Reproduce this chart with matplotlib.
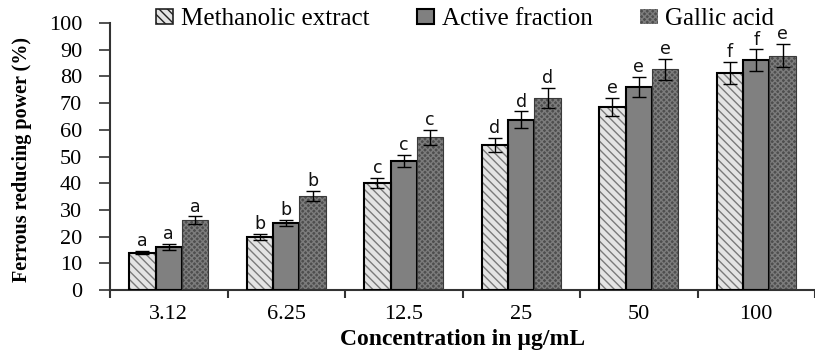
import matplotlib
matplotlib.use('Agg')
import matplotlib.pyplot as plt
import numpy as np
from matplotlib.patches import Patch

categories = ['3.12', '6.25', '12.5', '25', '50', '100']
series_names = ['Methanolic extract', 'Active fraction', 'Gallic acid']
methanolic = [14.0, 19.8, 40.0, 54.3, 68.4, 81.2]
methanolic_err = [0.5, 1.1, 1.9, 2.6, 3.4, 4.2]
active = [16.0, 25.0, 48.3, 63.7, 76.1, 86.0]
active_err = [1.2, 1.2, 2.3, 3.2, 3.7, 4.1]
gallic = [26.2, 35.3, 57.2, 72.0, 82.6, 87.8]
gallic_err = [1.4, 1.9, 2.8, 3.7, 4.0, 4.4]
letters_methanolic = ['a', 'b', 'c', 'd', 'e', 'f']
letters_active = ['a', 'b', 'c', 'd', 'e', 'f']
letters_gallic = ['a', 'b', 'c', 'd', 'e', 'e']

values = [methanolic, active, gallic]
errors = [methanolic_err, active_err, gallic_err]
letters = [letters_methanolic, letters_active, letters_gallic]

styles = [
    dict(face='#e4e4e4', hatch='\\\\\\\\', hcol='#7a7a7a', outline=True),
    dict(face='#808080', hatch=None, hcol='#808080', outline=True),
    dict(face='#4e4e4e', hatch='xxxxxx', hcol='#7c7c7c', outline=False),
]

SERIF = 'Liberation Serif'

fig = plt.figure(figsize=(8.15, 3.5), dpi=100)
ax = fig.add_axes([110 / 815, 1 - 290 / 350, 705 / 815, 267 / 350])

w = 0.224
idx = np.arange(len(categories))
for i in range(3):
    st = styles[i]
    x = idx + (i - 1) * w
    ax.bar(x, values[i], w, color=st['face'], edgecolor=st['hcol'],
           hatch=st['hatch'], linewidth=0, zorder=2)
    if st['outline']:
        ax.bar(x, values[i], w, fill=False, edgecolor='black', linewidth=1.5, zorder=3)
    else:
        ax.bar(x, values[i], w, fill=False, edgecolor='#3a3a3a', linewidth=0.8, zorder=3)
    ax.errorbar(x, values[i], yerr=errors[i], fmt='none', ecolor='black',
                elinewidth=1.0, capsize=5, capthick=1.0, zorder=4)
    for xi, v, e, lab in zip(x, values[i], errors[i], letters[i]):
        ax.text(xi, v + e + 0.3, lab, ha='center', va='bottom', fontsize=12.5,
                family='DejaVu Sans', color='#111111')

ax.set_ylim(0, 100)
ax.set_yticks(range(0, 101, 10))
ax.set_xlim(-0.5, 5.5)
ax.set_xticks(np.arange(-0.5, 5.6, 1.0))
ax.set_xticklabels([])
ax.set_xticks(idx, minor=True)
ax.set_xticklabels(categories, minor=True)
for sp in ['top', 'right']:
    ax.spines[sp].set_visible(False)
for sp in ['left', 'bottom']:
    ax.spines[sp].set_color('#333333')
    ax.spines[sp].set_linewidth(1.5)
ax.tick_params(axis='y', length=8, width=1.2, color='#333333', pad=12, labelsize=16)
ax.tick_params(axis='x', which='major', length=6, width=1.5, color='#333333')
ax.tick_params(axis='x', which='minor', length=0, pad=11, labelsize=16)
for lab in ax.get_yticklabels() + ax.get_xticklabels(minor=True):
    lab.set_family(SERIF)

fig.text(462.5 / 815, 1 - 340 / 350, 'Concentration in µg/mL', ha='center', va='center',
         fontsize=17, fontweight='bold', family=SERIF)
fig.text(22 / 815, 1 - 160 / 350, 'Ferrous reducing power (%)', ha='center', va='center',
         rotation=90, fontsize=14.5, fontweight='bold', family=SERIF)

handles = [
    Patch(facecolor=styles[0]['face'], edgecolor='#222222', hatch='\\\\\\\\', linewidth=1.2),
    Patch(facecolor=styles[1]['face'], edgecolor='black', linewidth=1.5),
    Patch(facecolor=styles[2]['face'], edgecolor=styles[2]['hcol'], hatch='xxxxxx', linewidth=0),
]
fig.legend(handles, series_names, loc='center', bbox_to_anchor=(465 / 815, 1 - 19 / 350),
           ncol=3, frameon=False, prop={'family': SERIF, 'size': 18},
           handlelength=0.7, handleheight=0.55, handletextpad=0.3, columnspacing=1.9,
           borderpad=0, borderaxespad=0)

fig.savefig('out.png', dpi=100)
